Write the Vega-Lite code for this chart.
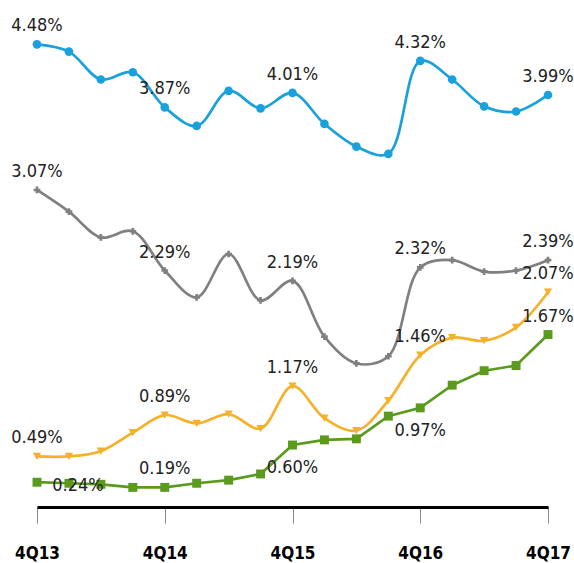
{
  "$schema": "https://vega.github.io/schema/vega-lite/v6.json",
  "autosize": "none",
  "width": 511,
  "height": 506,
  "padding": {"left": 37, "top": 1, "right": 26, "bottom": 56},
  "background": "white",
  "config": {"view": {"stroke": null}, "font": "DejaVu Sans Condensed, Liberation Sans, sans-serif"},
  "data": {"values": [
    {"quarter": "4Q13", "series": "A", "value": 4.48, "label": "4.48%"},
    {"quarter": "1Q14", "series": "A", "value": 4.41},
    {"quarter": "2Q14", "series": "A", "value": 4.14},
    {"quarter": "3Q14", "series": "A", "value": 4.21},
    {"quarter": "4Q14", "series": "A", "value": 3.87, "label": "3.87%"},
    {"quarter": "1Q15", "series": "A", "value": 3.69},
    {"quarter": "2Q15", "series": "A", "value": 4.03},
    {"quarter": "3Q15", "series": "A", "value": 3.86},
    {"quarter": "4Q15", "series": "A", "value": 4.01, "label": "4.01%"},
    {"quarter": "1Q16", "series": "A", "value": 3.71},
    {"quarter": "2Q16", "series": "A", "value": 3.49},
    {"quarter": "3Q16", "series": "A", "value": 3.42},
    {"quarter": "4Q16", "series": "A", "value": 4.32, "label": "4.32%"},
    {"quarter": "1Q17", "series": "A", "value": 4.14},
    {"quarter": "2Q17", "series": "A", "value": 3.88},
    {"quarter": "3Q17", "series": "A", "value": 3.83},
    {"quarter": "4Q17", "series": "A", "value": 3.99, "label": "3.99%"},
    {"quarter": "4Q13", "series": "B", "value": 3.07, "label": "3.07%"},
    {"quarter": "1Q14", "series": "B", "value": 2.86},
    {"quarter": "2Q14", "series": "B", "value": 2.61},
    {"quarter": "3Q14", "series": "B", "value": 2.67},
    {"quarter": "4Q14", "series": "B", "value": 2.29, "label": "2.29%"},
    {"quarter": "1Q15", "series": "B", "value": 2.03},
    {"quarter": "2Q15", "series": "B", "value": 2.45},
    {"quarter": "3Q15", "series": "B", "value": 2.00},
    {"quarter": "4Q15", "series": "B", "value": 2.19, "label": "2.19%"},
    {"quarter": "1Q16", "series": "B", "value": 1.65},
    {"quarter": "2Q16", "series": "B", "value": 1.39},
    {"quarter": "3Q16", "series": "B", "value": 1.46},
    {"quarter": "4Q16", "series": "B", "value": 2.32, "label": "2.32%"},
    {"quarter": "1Q17", "series": "B", "value": 2.39},
    {"quarter": "2Q17", "series": "B", "value": 2.28},
    {"quarter": "3Q17", "series": "B", "value": 2.29},
    {"quarter": "4Q17", "series": "B", "value": 2.39, "label": "2.39%"},
    {"quarter": "4Q13", "series": "C", "value": 0.49, "label": "0.49%"},
    {"quarter": "1Q14", "series": "C", "value": 0.49},
    {"quarter": "2Q14", "series": "C", "value": 0.54},
    {"quarter": "3Q14", "series": "C", "value": 0.72},
    {"quarter": "4Q14", "series": "C", "value": 0.89, "label": "0.89%"},
    {"quarter": "1Q15", "series": "C", "value": 0.81},
    {"quarter": "2Q15", "series": "C", "value": 0.90},
    {"quarter": "3Q15", "series": "C", "value": 0.76},
    {"quarter": "4Q15", "series": "C", "value": 1.17, "label": "1.17%"},
    {"quarter": "1Q16", "series": "C", "value": 0.86},
    {"quarter": "2Q16", "series": "C", "value": 0.74},
    {"quarter": "3Q16", "series": "C", "value": 1.03},
    {"quarter": "4Q16", "series": "C", "value": 1.47, "label": "1.46%"},
    {"quarter": "1Q17", "series": "C", "value": 1.64},
    {"quarter": "2Q17", "series": "C", "value": 1.61},
    {"quarter": "3Q17", "series": "C", "value": 1.74},
    {"quarter": "4Q17", "series": "C", "value": 2.08, "label": "2.07%"},
    {"quarter": "4Q13", "series": "D", "value": 0.24, "label": "0.24%"},
    {"quarter": "1Q14", "series": "D", "value": 0.23},
    {"quarter": "2Q14", "series": "D", "value": 0.22},
    {"quarter": "3Q14", "series": "D", "value": 0.19},
    {"quarter": "4Q14", "series": "D", "value": 0.19, "label": "0.19%"},
    {"quarter": "1Q15", "series": "D", "value": 0.23},
    {"quarter": "2Q15", "series": "D", "value": 0.26},
    {"quarter": "3Q15", "series": "D", "value": 0.32},
    {"quarter": "4Q15", "series": "D", "value": 0.60, "label": "0.60%"},
    {"quarter": "1Q16", "series": "D", "value": 0.65},
    {"quarter": "2Q16", "series": "D", "value": 0.66},
    {"quarter": "3Q16", "series": "D", "value": 0.88},
    {"quarter": "4Q16", "series": "D", "value": 0.96, "label": "0.97%"},
    {"quarter": "1Q17", "series": "D", "value": 1.18},
    {"quarter": "2Q17", "series": "D", "value": 1.32},
    {"quarter": "3Q17", "series": "D", "value": 1.37},
    {"quarter": "4Q17", "series": "D", "value": 1.67, "label": "1.67%"}
  ]},
  "encoding": {
    "x": {
      "field": "quarter", "type": "ordinal",
      "sort": ["4Q13","1Q14","2Q14","3Q14","4Q14","1Q15","2Q15","3Q15","4Q15","1Q16","2Q16","3Q16","4Q16","1Q17","2Q17","3Q17","4Q17"],
      "scale": {"type": "point", "padding": 0},
      "axis": {
        "title": null, "values": ["4Q13","4Q14","4Q15","4Q16","4Q17"], "labelAngle": 0,
        "domainColor": "#000000", "domainWidth": 3,
        "tickColor": "#888888", "tickWidth": 1, "tickSize": 16,
        "labelFont": "DejaVu Sans Condensed, Liberation Sans, sans-serif", "labelFontWeight": "bold", "labelFontSize": 17,
        "labelColor": "#000000", "labelPadding": 22, "grid": false
      }
    },
    "y": {
      "field": "value", "type": "quantitative",
      "scale": {"domain": [0, 4.9], "nice": false, "zero": true},
      "axis": null
    },
    "color": {
      "field": "series", "type": "nominal", "legend": null,
      "scale": {"domain": ["A","B","C","D"], "range": ["#1aa1db", "#808080", "#f5b12a", "#5a9a1c"]}
    }
  },
  "layer": [
    {
      "transform": [{"filter": "datum.series != 'D'"}],
      "mark": {"type": "line", "interpolate": "catmull-rom", "strokeWidth": 2.7}
    },
    {
      "transform": [{"filter": "datum.series == 'D'"}],
      "mark": {"type": "line", "strokeWidth": 2.7}
    },
    {
      "transform": [{"filter": "datum.series == 'A'"}],
      "mark": {"type": "point", "shape": "circle", "filled": true, "opacity": 1, "size": 75}
    },
    {
      "transform": [{"filter": "datum.series == 'B'"}],
      "mark": {"type": "point", "shape": "cross", "filled": true, "opacity": 1, "size": 45}
    },
    {
      "transform": [{"filter": "datum.series == 'C'"}],
      "mark": {"type": "point", "shape": "triangle-down", "filled": true, "opacity": 1, "size": 70}
    },
    {
      "transform": [{"filter": "datum.series == 'D'"}],
      "mark": {"type": "point", "shape": "square", "filled": true, "opacity": 1, "size": 80}
    },
    {
      "transform": [{"filter": "isValid(datum.label) && !(datum.series == 'D' && (datum.quarter == '4Q13' || datum.quarter == '4Q15' || datum.quarter == '4Q16'))"}],
      "mark": {"type": "text", "dy": -18, "fontSize": 18, "baseline": "middle", "align": "center"},
      "encoding": {"text": {"field": "label"}, "color": {"value": "#222222"}}
    },
    {
      "transform": [{"filter": "datum.series == 'D' && (datum.quarter == '4Q15' || datum.quarter == '4Q16')"}],
      "mark": {"type": "text", "dy": 23, "fontSize": 18, "baseline": "middle", "align": "center"},
      "encoding": {"text": {"field": "label"}, "color": {"value": "#222222"}}
    },
    {
      "transform": [{"filter": "datum.series == 'D' && datum.quarter == '4Q13'"}],
      "mark": {"type": "text", "dx": 41, "dy": 4, "fontSize": 18, "baseline": "middle", "align": "center"},
      "encoding": {"text": {"field": "label"}, "color": {"value": "#222222"}}
    }
  ]
}
